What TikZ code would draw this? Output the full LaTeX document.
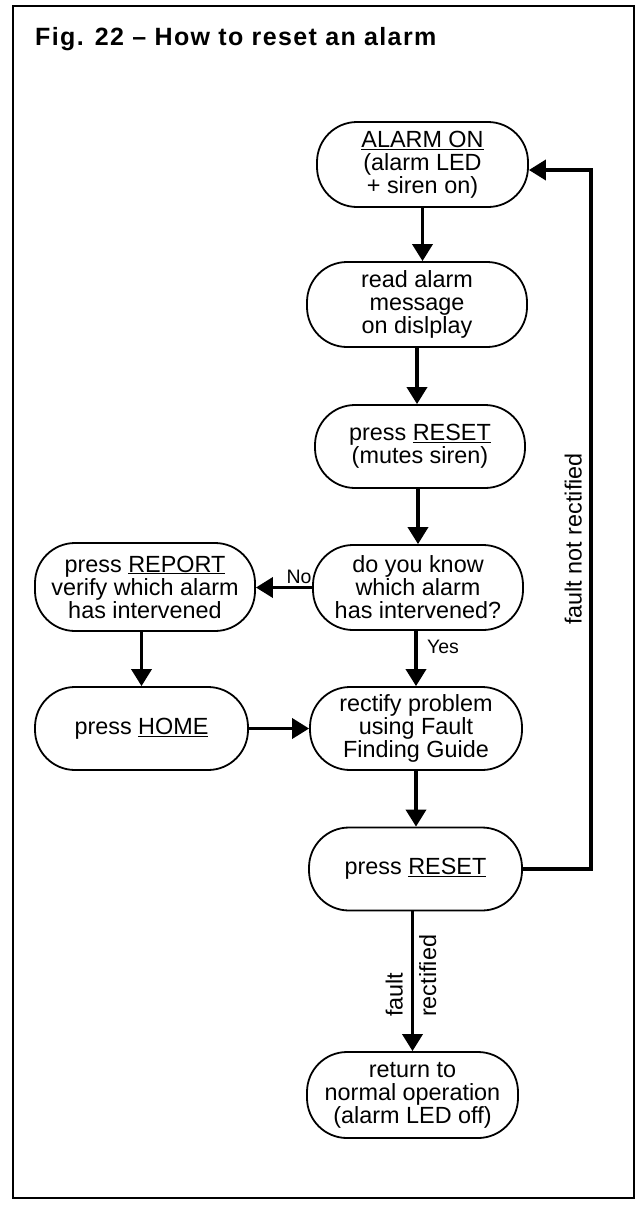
\documentclass[tikz,border=0pt]{standalone}
\usepackage{fontspec}
\setmainfont{Liberation Sans}
\newfontfamily\titlefont[LetterSpace=5.5]{Liberation Sans}
\usetikzlibrary{arrows.meta}
\newcommand{\boxfont}{\fontsize{23.4}{23}\selectfont}
\newcommand{\tagfont}{\fontsize{19.5}{21}\selectfont}

\begin{document}
\begin{tikzpicture}[x=1pt,y=-1pt,
  stage/.style={draw,line width=1.8pt,rounded corners=40pt,minimum width=211pt,
    minimum height=85pt,inner sep=0pt,align=center,font=\boxfont},
  flow/.style={line width=3.6pt,-{Triangle[width=20pt,length=17pt]}},
  tag/.style={inner sep=0pt,font=\boxfont}]
      \useasboundingbox (0,0) rectangle (637,1208);
      % Frame and title
      \draw[line width=2.2pt] (13,6) rectangle (634,1198);
      \node[anchor=base west,inner sep=0pt,font=\titlefont\bfseries\fontsize{25}{30}\selectfont]
        (title) at (35,45) {Fig. 22 \textendash{} How to reset an alarm};
      % Main column
      \node[stage] (alarm) at (422.5,164.5) {\underline{ALARM ON}\\(alarm LED\\+ siren on)};
      \node[stage,minimum width=220pt] (read) at (417,304.5) {read alarm\\message\\on dislplay};
      \node[stage,minimum width=210pt,minimum height=83pt] (reset) at (420,446.5) {press \underline{RESET}\\(mutes siren)};
      \node[stage,minimum width=210pt] (query) at (418,587.5) {do you know\\which alarm\\has intervened?};
      \node[stage,minimum width=212pt,minimum height=83pt] (rectify) at (416,728.5) {rectify problem\\using Fault\\Finding Guide};
      \node[stage,minimum width=213pt,minimum height=83pt] (retry) at (415.5,869) {press \underline{RESET}};
      \node[stage,minimum height=86pt] (normal) at (412.5,1095) {return to\\normal operation\\(alarm LED off)};
      % Side column
      \node[stage,minimum width=220pt,minimum height=88pt] (report) at (145,587) {press \underline{REPORT}\\verify which alarm\\has intervened};
      \node[stage,minimum width=213pt,minimum height=83pt] (home) at (141.5,728.5) {press \underline{HOME}};
      % Arrows
      \draw[flow] (alarm.south) -- (alarm.south |- read.north);
      \draw[flow] (read.south) -- (read.south |- reset.north);
      \draw[flow] (query.north |- reset.south) -- (query.north);
      \draw[flow] (query.west) -- (query.west -| report.east);
      \draw[flow] (rectify.north |- query.south) -- (rectify.north);
      \draw[flow] (home.north |- report.south) -- (home.north);
      \draw[flow] (home.east) -- (home.east -| rectify.west);
      \draw[flow] (rectify.south) -- (rectify.south |- retry.north);
      \draw[flow] (normal.north |- retry.south) -- (normal.north);
      % Loop back
      \coordinate (loop) at (591,170);
      \draw[flow] (retry.east) -| (loop) -- (loop -| alarm.east);
      % Labels
      \node[inner sep=0pt,font=\tagfont] (no) at (299,577) {No};
      \node[inner sep=0pt,font=\tagfont] (yes) at (443,647) {Yes};
      \node[tag,rotate=90,anchor=south] (notfixed) at (582,539) {fault not rectified};
      \node[tag,rotate=90,anchor=south west] (fault) at (403,1017) {fault};
      \node[tag,rotate=90,anchor=north west] (fixed) at (419,1017) {rectified};
    \end{tikzpicture}
\end{document}
